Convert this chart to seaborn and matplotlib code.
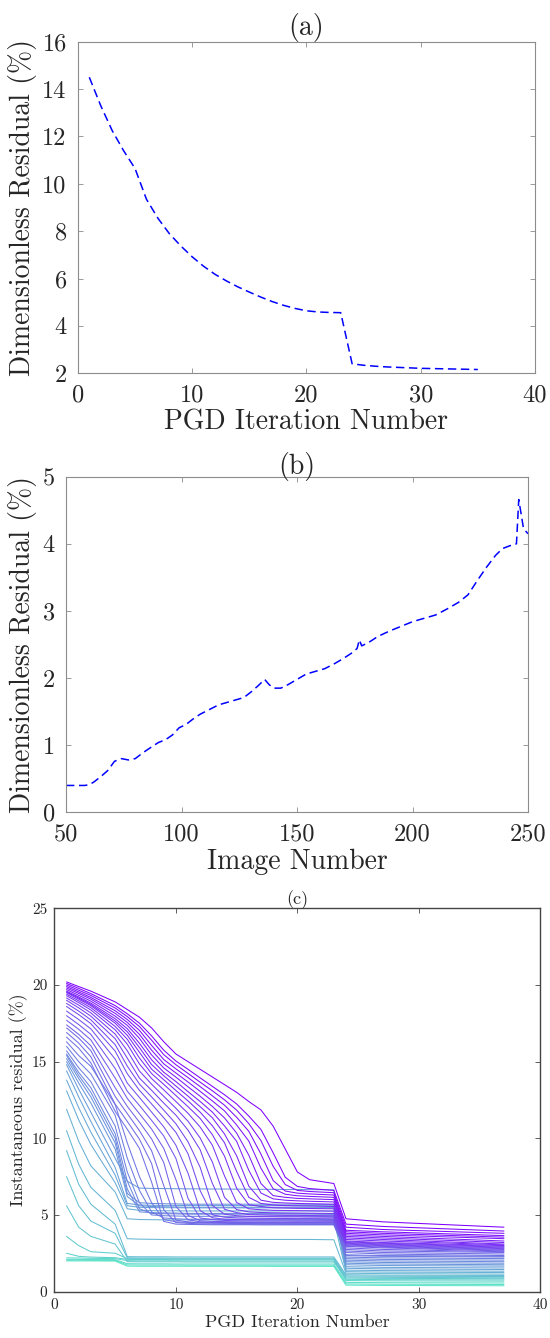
"""Residual convergence figure: (a) PGD residual, (b) per-image residual, (c) per-image PGD curves."""
import numpy as np
import pandas as pd
import matplotlib
matplotlib.use("Agg")
import matplotlib.pyplot as plt
from matplotlib.colors import LinearSegmentedColormap
import seaborn as sns

# ── Data ──────────────────────────────────────────────────────────────────────

# (a) dimensionless residual vs PGD iteration
ITER_A = list(range(1, 36))
RESID_A = [14.50, 13.30, 12.25, 11.40, 10.65, 9.35, 8.55, 7.90, 7.38, 6.92,
           6.52, 6.18, 5.90, 5.65, 5.43, 5.22, 5.03, 4.87, 4.74, 4.64,
           4.59, 4.57, 4.56, 2.40, 2.34, 2.30, 2.27, 2.25, 2.23, 2.21,
           2.20, 2.19, 2.18, 2.17, 2.16]

# (b) dimensionless residual vs image number
IMG_B = [50, 52, 55, 58, 60, 62, 65, 68, 71, 74, 77, 80, 83, 86, 90, 93, 96,
         99, 102, 105, 108, 112, 116, 120, 124, 127, 130, 133, 136, 138, 140,
         143, 146, 150, 154, 158, 162, 166, 170, 174, 176, 177, 178, 181, 185,
         190, 195, 200, 205, 210, 215, 220, 224, 228, 232, 236, 239, 242, 245,
         246, 247, 248, 249, 250]
RESID_B = [0.40, 0.40, 0.40, 0.40, 0.41, 0.45, 0.53, 0.62, 0.76, 0.80, 0.78,
           0.80, 0.88, 0.95, 1.04, 1.08, 1.15, 1.26, 1.31, 1.39, 1.46, 1.53,
           1.60, 1.64, 1.68, 1.71, 1.79, 1.88, 1.98, 1.90, 1.85, 1.85, 1.90,
           1.98, 2.06, 2.10, 2.14, 2.21, 2.29, 2.38, 2.44, 2.57, 2.48, 2.53,
           2.62, 2.70, 2.77, 2.84, 2.89, 2.94, 3.03, 3.13, 3.24, 3.45, 3.65,
           3.83, 3.93, 3.97, 4.00, 4.66, 4.45, 4.24, 4.19, 4.15]

# (c) instantaneous residual per image (rows, teal -> violet) at PGD iterations ITER_C
ITER_C = [1, 2, 3, 5, 6, 7, 8, 9, 10, 11, 12, 13, 14, 15, 16, 17, 18, 19, 20, 21, 23, 24, 27, 37]
RESID_C = [
    [2.00, 2.00, 2.00, 1.99, 1.66, 1.65, 1.65, 1.65, 1.65, 1.65, 1.65, 1.65, 1.65, 1.65, 1.65, 1.65, 1.64, 1.64, 1.64, 1.64, 1.64, 0.42, 0.40, 0.38],
    [2.05, 2.05, 2.04, 2.03, 1.74, 1.73, 1.73, 1.73, 1.73, 1.72, 1.72, 1.72, 1.72, 1.72, 1.72, 1.72, 1.72, 1.72, 1.72, 1.72, 1.72, 0.50, 0.48, 0.46],
    [2.10, 2.10, 2.09, 2.08, 1.82, 1.81, 1.81, 1.81, 1.80, 1.80, 1.80, 1.80, 1.80, 1.80, 1.80, 1.80, 1.80, 1.80, 1.80, 1.80, 1.80, 0.60, 0.58, 0.56],
    [2.20, 2.19, 2.17, 2.15, 2.02, 2.01, 2.01, 2.01, 2.01, 2.00, 2.00, 2.00, 2.00, 2.00, 2.00, 2.00, 2.00, 2.00, 2.00, 2.00, 2.00, 0.72, 0.70, 0.68],
    [2.50, 2.30, 2.25, 2.21, 2.10, 2.09, 2.09, 2.09, 2.08, 2.08, 2.08, 2.08, 2.08, 2.08, 2.08, 2.08, 2.08, 2.08, 2.08, 2.08, 2.08, 0.80, 0.78, 0.76],
    [3.60, 3.00, 2.60, 2.50, 2.15, 2.14, 2.14, 2.14, 2.13, 2.13, 2.13, 2.13, 2.13, 2.13, 2.13, 2.13, 2.13, 2.13, 2.13, 2.13, 2.13, 0.88, 0.86, 0.84],
    [5.60, 4.20, 3.60, 3.10, 1.95, 1.94, 1.94, 1.94, 1.94, 1.93, 1.93, 1.93, 1.93, 1.93, 1.93, 1.93, 1.93, 1.93, 1.93, 1.93, 1.93, 0.95, 0.93, 0.90],
    [7.50, 5.60, 4.60, 3.80, 2.20, 2.19, 2.19, 2.19, 2.18, 2.18, 2.18, 2.18, 2.18, 2.18, 2.18, 2.18, 2.18, 2.18, 2.18, 2.18, 2.18, 1.02, 1.00, 0.98],
    [9.20, 7.00, 5.70, 4.40, 2.28, 2.27, 2.27, 2.27, 2.26, 2.26, 2.26, 2.26, 2.26, 2.26, 2.26, 2.26, 2.26, 2.26, 2.26, 2.26, 2.26, 1.10, 1.07, 1.05],
    [10.50, 8.30, 6.80, 5.30, 3.45, 3.42, 3.41, 3.40, 3.40, 3.40, 3.40, 3.40, 3.40, 3.40, 3.40, 3.40, 3.40, 3.40, 3.40, 3.40, 3.38, 1.20, 1.17, 1.14],
    [11.90, 9.80, 8.20, 6.50, 4.75, 4.70, 4.69, 4.68, 4.68, 4.68, 4.68, 4.68, 4.68, 4.68, 4.68, 4.68, 4.68, 4.68, 4.68, 4.68, 4.66, 1.30, 1.27, 1.24],
    [13.10, 11.20, 9.60, 7.10, 5.40, 5.30, 5.28, 5.27, 5.27, 5.26, 5.26, 5.26, 5.26, 5.26, 5.26, 5.26, 5.26, 5.26, 5.26, 5.26, 5.25, 1.40, 1.37, 1.33],
    [13.80, 12.00, 10.40, 7.60, 5.60, 5.50, 5.48, 5.47, 5.47, 5.46, 5.46, 5.46, 5.46, 5.46, 5.46, 5.46, 5.46, 5.46, 5.46, 5.46, 5.45, 1.52, 1.48, 1.44],
    [14.40, 12.70, 11.10, 8.10, 5.75, 5.65, 5.63, 5.62, 5.62, 5.61, 5.61, 5.61, 5.61, 5.61, 5.61, 5.61, 5.61, 5.61, 5.61, 5.61, 5.60, 1.62, 1.58, 1.54],
    [14.80, 13.20, 11.70, 8.70, 7.20, 6.75, 6.73, 6.72, 6.71, 6.70, 6.70, 6.69, 6.69, 6.68, 6.68, 6.67, 6.67, 6.66, 6.66, 6.65, 6.64, 1.75, 1.70, 1.66],
    [15.00, 13.60, 12.30, 9.30, 6.20, 5.60, 5.55, 5.53, 5.52, 5.50, 5.50, 5.50, 5.50, 5.50, 5.50, 5.50, 5.50, 5.50, 5.50, 5.50, 5.48, 1.85, 1.80, 1.75],
    [15.20, 13.90, 12.70, 9.70, 6.40, 5.80, 5.75, 5.73, 5.72, 5.70, 5.70, 5.70, 5.70, 5.70, 5.70, 5.70, 5.70, 5.70, 5.70, 5.70, 5.68, 1.95, 1.90, 1.85],
    [15.40, 14.10, 13.00, 10.00, 6.70, 5.20, 5.15, 5.13, 5.12, 5.10, 5.10, 5.10, 5.10, 5.10, 5.10, 5.10, 5.10, 5.10, 5.10, 5.10, 5.08, 2.05, 2.00, 1.95],
    [15.50, 14.30, 13.30, 10.30, 7.20, 5.40, 5.10, 5.08, 5.07, 5.05, 5.05, 5.05, 5.05, 5.05, 5.05, 5.05, 5.05, 5.05, 5.05, 5.05, 5.03, 2.15, 2.10, 2.05],
    [15.70, 14.60, 13.70, 10.80, 7.80, 5.80, 5.00, 4.95, 4.93, 4.91, 4.91, 4.91, 4.91, 4.91, 4.91, 4.91, 4.91, 4.91, 4.91, 4.91, 4.89, 2.25, 2.20, 2.15],
    [16.00, 15.00, 14.20, 11.50, 8.70, 6.60, 5.20, 4.80, 4.75, 4.72, 4.72, 4.72, 4.72, 4.72, 4.72, 4.72, 4.72, 4.72, 4.72, 4.72, 4.70, 2.35, 2.30, 2.25],
    [16.30, 15.40, 14.70, 12.20, 9.70, 7.50, 5.80, 4.70, 4.55, 4.51, 4.51, 4.51, 4.51, 4.51, 4.51, 4.51, 4.51, 4.51, 4.51, 4.51, 4.49, 2.40, 2.35, 2.30],
    [16.60, 15.88, 14.92, 11.76, 10.59, 9.34, 7.14, 4.58, 4.40, 4.38, 4.37, 4.36, 4.36, 4.36, 4.36, 4.35, 4.35, 4.35, 4.35, 4.35, 4.35, 2.55, 2.45, 2.35],
    [16.90, 16.21, 15.32, 12.23, 11.10, 9.94, 8.35, 5.34, 4.50, 4.45, 4.42, 4.41, 4.40, 4.39, 4.39, 4.39, 4.39, 4.38, 4.38, 4.38, 4.38, 2.65, 2.55, 2.45],
    [17.20, 16.54, 15.72, 12.73, 11.61, 10.50, 9.19, 6.92, 4.66, 4.55, 4.48, 4.46, 4.45, 4.44, 4.44, 4.43, 4.43, 4.43, 4.43, 4.42, 4.42, 2.75, 2.65, 2.55],
    [17.40, 16.78, 16.04, 13.30, 12.08, 11.05, 9.96, 8.42, 5.56, 4.68, 4.55, 4.52, 4.50, 4.49, 4.48, 4.47, 4.47, 4.47, 4.47, 4.46, 4.46, 2.85, 2.75, 2.60],
    [17.70, 17.11, 16.42, 13.93, 12.60, 11.60, 10.60, 9.34, 7.31, 4.97, 4.62, 4.58, 4.56, 4.55, 4.54, 4.54, 4.53, 4.53, 4.53, 4.52, 4.52, 2.95, 2.85, 2.65],
    [18.00, 17.42, 16.78, 14.56, 13.07, 12.14, 11.17, 10.15, 8.69, 6.08, 4.80, 4.70, 4.64, 4.62, 4.61, 4.61, 4.60, 4.60, 4.59, 4.59, 4.58, 3.00, 2.90, 2.70],
    [18.30, 17.75, 17.14, 15.17, 13.60, 12.66, 11.71, 10.75, 9.55, 7.72, 5.28, 4.82, 4.72, 4.70, 4.68, 4.68, 4.67, 4.67, 4.66, 4.66, 4.65, 3.05, 2.95, 2.75],
    [18.60, 18.07, 17.48, 15.69, 14.21, 13.13, 12.24, 11.34, 10.39, 8.99, 6.58, 5.01, 4.85, 4.81, 4.79, 4.78, 4.77, 4.77, 4.76, 4.76, 4.75, 3.10, 3.00, 2.80],
    [18.80, 18.30, 17.73, 16.11, 14.71, 13.54, 12.70, 11.84, 10.95, 9.77, 8.10, 5.62, 5.05, 4.95, 4.90, 4.89, 4.88, 4.87, 4.87, 4.86, 4.85, 3.15, 3.05, 2.85],
    [19.00, 18.51, 17.97, 16.50, 15.23, 13.93, 13.13, 12.30, 11.51, 10.53, 9.25, 7.06, 5.37, 5.15, 5.02, 5.00, 4.98, 4.97, 4.97, 4.96, 4.95, 3.20, 3.10, 2.90],
    [19.15, 18.69, 18.18, 16.80, 15.71, 14.39, 13.53, 12.74, 11.96, 11.11, 10.02, 8.46, 6.15, 5.35, 5.20, 5.16, 5.14, 5.13, 5.12, 5.11, 5.10, 3.25, 3.15, 2.95],
    [19.30, 18.85, 18.37, 17.08, 16.14, 14.85, 13.90, 13.16, 12.40, 11.63, 10.73, 9.55, 7.55, 5.81, 5.40, 5.34, 5.30, 5.29, 5.28, 5.27, 5.25, 3.30, 3.20, 3.00],
    [19.40, 18.97, 18.52, 17.30, 16.46, 15.24, 14.22, 13.52, 12.79, 12.06, 11.29, 10.24, 8.84, 6.74, 5.67, 5.55, 5.47, 5.45, 5.43, 5.42, 5.40, 3.40, 3.30, 3.05],
    [19.50, 19.08, 18.65, 17.51, 16.72, 15.61, 14.51, 13.82, 13.12, 12.44, 11.70, 10.82, 9.71, 7.84, 6.15, 5.75, 5.65, 5.61, 5.59, 5.58, 5.55, 3.50, 3.40, 3.10],
    [19.55, 19.15, 18.73, 17.65, 16.95, 15.92, 14.81, 14.08, 13.41, 12.75, 12.06, 11.34, 10.28, 8.86, 6.88, 5.96, 5.82, 5.78, 5.75, 5.73, 5.70, 3.60, 3.50, 3.20],
    [19.60, 19.22, 18.82, 17.80, 17.15, 16.20, 15.12, 14.31, 13.70, 13.04, 12.40, 11.71, 10.81, 9.80, 7.91, 6.43, 6.05, 5.96, 5.92, 5.89, 5.85, 3.70, 3.60, 3.30],
    [19.70, 19.33, 18.95, 17.97, 17.37, 16.52, 15.44, 14.59, 13.99, 13.36, 12.74, 12.08, 11.33, 10.34, 8.90, 7.05, 6.26, 6.15, 6.08, 6.05, 6.00, 3.80, 3.70, 3.45],
    [19.80, 19.45, 19.08, 18.15, 17.56, 16.78, 15.75, 14.86, 14.26, 13.67, 13.06, 12.44, 11.79, 10.87, 9.82, 8.05, 6.71, 6.35, 6.25, 6.21, 6.15, 3.90, 3.80, 3.55],
    [19.90, 19.55, 19.19, 18.32, 17.75, 17.04, 16.06, 15.14, 14.53, 13.96, 13.37, 12.77, 12.16, 11.37, 10.46, 8.97, 7.25, 6.56, 6.42, 6.37, 6.30, 4.00, 3.90, 3.65],
    [20.00, 19.66, 19.32, 18.50, 17.94, 17.29, 16.40, 15.46, 14.80, 14.23, 13.66, 13.10, 12.51, 11.84, 10.96, 9.85, 8.18, 6.98, 6.60, 6.53, 6.45, 4.20, 4.05, 3.80],
    [20.10, 19.78, 19.44, 18.66, 18.12, 17.51, 16.68, 15.75, 15.04, 14.50, 13.94, 13.39, 12.84, 12.24, 11.45, 10.58, 9.06, 7.46, 6.86, 6.72, 6.60, 4.40, 4.25, 3.95],
    [20.20, 19.90, 19.60, 18.90, 18.40, 17.90, 17.20, 16.30, 15.50, 15.00, 14.50, 14.00, 13.50, 13.00, 12.40, 11.85, 10.80, 9.30, 7.80, 7.30, 7.05, 4.75, 4.55, 4.20],
]

XTICKS_A = [0, 10, 20, 30, 40]
YTICKS_A = [2, 4, 6, 8, 10, 12, 14, 16]
XTICKS_B = [50, 100, 150, 200, 250]
YTICKS_B = [0, 1, 2, 3, 4, 5]
XTICKS_C = [0, 10, 20, 30, 40]
YTICKS_C = [0, 5, 10, 15, 20, 25]

TEXT   = "#262626"
LINE_B = "#0000ff"
CMAP_C = LinearSegmentedColormap.from_list("teal_violet", ["#5ee6c8", "#7f00ff"])


# ── Helpers ───────────────────────────────────────────────────────────────────

def style_axes(ax, spine_color, spine_lw, tick_fs, pad):
    for s in ax.spines.values():
        s.set_visible(True)
        s.set_color(spine_color)
        s.set_linewidth(spine_lw)
    ax.tick_params(direction="in", top=True, right=True, length=3.5,
                   width=0.6, color=spine_color, labelsize=tick_fs,
                   labelcolor=TEXT, pad=pad)


def set_ticks(ax, xt, yt):
    ax.set_xticks(xt, labels=[str(t) for t in xt])
    ax.set_yticks(yt, labels=[str(t) for t in yt])


# ── Figure ────────────────────────────────────────────────────────────────────

sns.set_theme(style="ticks")
plt.rcParams["font.family"] = ["cmr10", "DejaVu Serif"]
plt.rcParams["axes.formatter.use_mathtext"] = True
plt.rcParams["mathtext.fontset"] = "cm"
plt.rcParams["axes.unicode_minus"] = False

fig = plt.figure(figsize=(5.5, 13.38), dpi=100)
fig.patch.set_facecolor("white")

# (a)
ax_a = fig.add_axes([0.1416, 0.7210, 0.8311, 0.2478])
sns.lineplot(x=ITER_A, y=RESID_A, ax=ax_a, color=LINE_B, linewidth=1.1,
             linestyle=(0, (5.5, 3)))
ax_a.set_xlim(0, 40)
ax_a.set_ylim(2, 16)
set_ticks(ax_a, XTICKS_A, YTICKS_A)
style_axes(ax_a, "#8c8c8c", 0.8, 17.5, 8)
ax_a.set_title("(a)", fontsize=20, color=TEXT, pad=5)
ax_a.set_xlabel("PGD Iteration Number", fontsize=20, color=TEXT, labelpad=2)
ax_a.set_ylabel("Dimensionless Residual (%)", fontsize=20, color=TEXT, labelpad=4)

# (b)
ax_b = fig.add_axes([0.1200, 0.3929, 0.8400, 0.2508])
sns.lineplot(x=IMG_B, y=RESID_B, ax=ax_b, color=LINE_B, linewidth=1.1,
             linestyle=(0, (5.5, 3)))
ax_b.set_xlim(50, 250)
ax_b.set_ylim(0, 5)
set_ticks(ax_b, XTICKS_B, YTICKS_B)
style_axes(ax_b, "#8c8c8c", 0.8, 17.5, 8)
ax_b.set_title("(b)", fontsize=20, color=TEXT, pad=2)
ax_b.set_xlabel("Image Number", fontsize=20, color=TEXT, labelpad=2)
ax_b.set_ylabel("Dimensionless Residual (%)", fontsize=20, color=TEXT, labelpad=4)

# (c)
rows = []
for k, curve in enumerate(RESID_C):
    for it, v in zip(ITER_C, curve):
        rows.append({"curve": k, "iteration": it, "residual": v})
df_c = pd.DataFrame(rows)

ax_c = fig.add_axes([0.0989, 0.0347, 0.8836, 0.2864])
sns.lineplot(data=df_c, x="iteration", y="residual", hue="curve",
             units="curve", estimator=None, palette=CMAP_C,
             hue_norm=(0, len(RESID_C) - 1), legend=False, linewidth=0.75,
             ax=ax_c)
ax_c.set_xlim(0, 40)
ax_c.set_ylim(0, 25)
set_ticks(ax_c, XTICKS_C, YTICKS_C)
style_axes(ax_c, "#444444", 1.0, 11, 5)
ax_c.set_title("(c)", fontsize=13, color=TEXT, pad=3)
ax_c.set_xlabel("PGD Iteration Number", fontsize=13, color=TEXT, labelpad=2)
ax_c.set_ylabel("Instantaneous residual (%)", fontsize=13, color=TEXT, labelpad=3)

fig.savefig("out.png", dpi=100)
